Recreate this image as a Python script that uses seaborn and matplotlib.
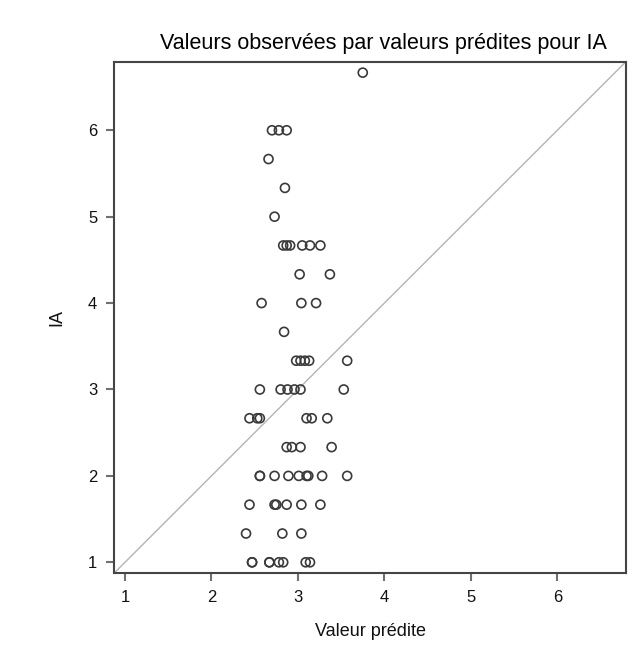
import matplotlib
matplotlib.use("Agg")
import matplotlib.pyplot as plt
import seaborn as sns
import pandas as pd

predicted = [3.75,
             2.70, 2.78, 2.87,
             2.66,
             2.85,
             2.73,
             2.83, 2.87, 2.91, 3.05, 3.14, 3.26,
             3.02, 3.37,
             2.58, 3.04, 3.21,
             2.84,
             2.98, 3.03, 3.08, 3.13, 3.57,
             2.56, 2.80, 2.88, 2.96, 3.03, 3.53,
             2.44, 2.53, 2.56, 3.10, 3.16, 3.34,
             2.87, 2.93, 3.03, 3.39,
             2.56, 2.56, 2.73, 2.89, 3.01, 3.10, 3.12, 3.28, 3.57,
             2.44, 2.73, 2.75, 2.87, 3.04, 3.26,
             2.40, 2.82, 3.04,
             2.47, 2.47, 2.67, 2.67, 2.78, 2.83, 3.09, 3.14]
observed = [6.667,
            6.0, 6.0, 6.0,
            5.667,
            5.333,
            5.0,
            4.667, 4.667, 4.667, 4.667, 4.667, 4.667,
            4.333, 4.333,
            4.0, 4.0, 4.0,
            3.667,
            3.333, 3.333, 3.333, 3.333, 3.333,
            3.0, 3.0, 3.0, 3.0, 3.0, 3.0,
            2.667, 2.667, 2.667, 2.667, 2.667, 2.667,
            2.333, 2.333, 2.333, 2.333,
            2.0, 2.0, 2.0, 2.0, 2.0, 2.0, 2.0, 2.0, 2.0,
            1.667, 1.667, 1.667, 1.667, 1.667, 1.667,
            1.333, 1.333, 1.333,
            1.0, 1.0, 1.0, 1.0, 1.0, 1.0, 1.0, 1.0]
ticks = [1, 2, 3, 4, 5, 6]

df = pd.DataFrame({"pred": predicted, "obs": observed})

sns.set_style("white")
plt.rcParams['font.family'] = ['Liberation Sans', 'DejaVu Sans']

fig = plt.figure(figsize=(6.43, 6.51), dpi=100)
ax = fig.add_axes([0.1773, 0.1194, 0.7963, 0.786])

lo, hi = 0.873, 6.795
ax.plot([lo, hi], [lo, hi], color="#b4b4b4", lw=1.0, zorder=1)
sns.scatterplot(data=df, x="pred", y="obs", ax=ax, marker="o", s=42,
                facecolors="none", edgecolor="#3a3a3a", linewidth=1.2, zorder=2)

ax.set_xlim(lo, hi)
ax.set_ylim(lo, hi)
ax.set_xticks(ticks)
ax.set_yticks(ticks)
ax.set_xticklabels([str(t) for t in ticks])
ax.set_yticklabels([str(t) for t in ticks])
for sp in ax.spines.values():
    sp.set_color("#454545")
    sp.set_linewidth(1.5)
ax.tick_params(axis="both", which="both", direction="out", length=6, width=1.5,
               color="#707070", labelsize=12, labelcolor="#111111", pad=6,
               bottom=True, left=True)

ax.set_xlabel("Valeur prédite", fontsize=13, labelpad=13, color="#111111")
ax.set_ylabel("IA", fontsize=13, labelpad=16, color="#111111")
ax.set_title("Valeurs observées par valeurs prédites pour IA", fontsize=15.5,
             pad=9, color="#000000", x=0.526)

fig.savefig("out.png", dpi=100)
